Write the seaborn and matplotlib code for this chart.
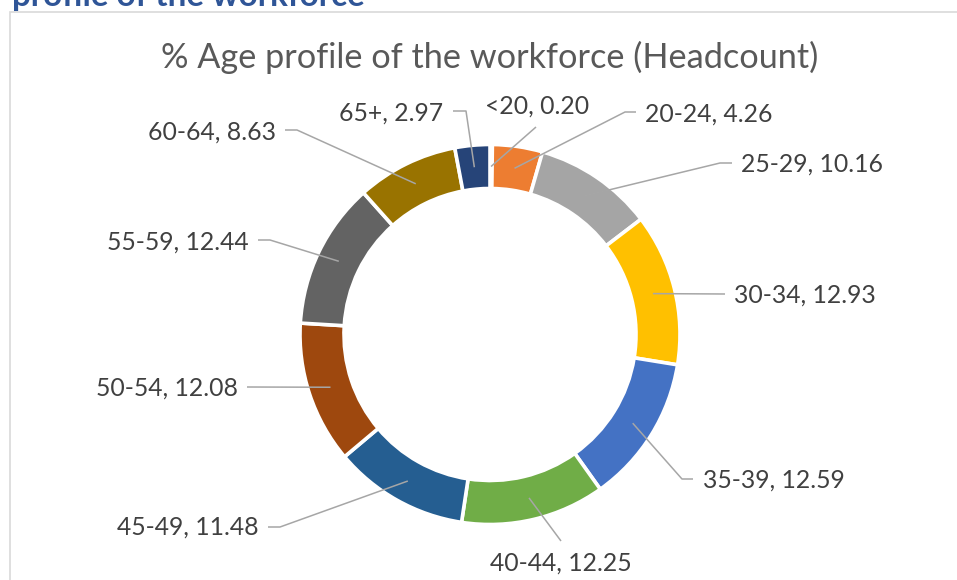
import numpy as np
import matplotlib
matplotlib.use("Agg")
import matplotlib.pyplot as plt
import seaborn as sns
from matplotlib.patches import Rectangle

# age bands, clockwise from 12 o'clock
age_bands = ["<20", "20-24", "25-29", "30-34", "35-39", "40-44",
             "45-49", "50-54", "55-59", "60-64", "65+"]
headcount_pct = [0.20, 4.26, 10.16, 12.93, 12.59, 12.25,
                 11.48, 12.08, 12.44, 8.63, 2.97]
band_colors = ["#5B9BD5", "#ED7D31", "#A5A5A5", "#FFC000", "#4472C4", "#70AD47",
               "#255E91", "#9E480E", "#636363", "#997300", "#264478"]

title = "% Age profile of the workforce (Headcount)"
heading = "profile of the workforce"

# label layout in pixel coords: (text x, text y, ha, elbow points...)
label_layout = {
    "<20":   (537, 106, "center", [(536, 127)]),
    "20-24": (645, 114, "left",   [(625, 112), (636, 112)]),
    "25-29": (741, 164, "left",   [(720, 163), (732, 163)]),
    "30-34": (734, 295, "left",   [(725, 294)]),
    "35-39": (703, 480, "left",   [(682, 479), (693, 479)]),
    "40-44": (561, 563, "center", [(561, 541)]),
    "45-49": (259, 527, "right",  [(280, 527), (268, 527)]),
    "50-54": (238, 388, "right",  [(247, 387)]),
    "55-59": (249, 242, "right",  [(270, 240), (258, 240)]),
    "60-64": (276, 132, "right",  [(297, 130), (285, 130)]),
    "65+":   (443, 113, "right",  [(466, 111), (453, 111)]),
}

sns.set_theme(style="white")
plt.rcParams["font.family"] = ["Lato", "DejaVu Sans"]

W, H = 957, 580
fig = plt.figure(figsize=(W / 100, H / 100), dpi=100)
ax = fig.add_axes([0, 0, 1, 1])

def py(y):
    return H - y

cx, cy = 490, 334.5
r_out, r_in = 190, 146

palette = sns.color_palette(band_colors)
ax.pie(headcount_pct, colors=palette, startangle=90, counterclock=False,
       center=(cx, py(cy)), radius=r_out,
       wedgeprops=dict(width=r_out - r_in, edgecolor="white", linewidth=2.6))

# pie() resets the limits, so fix the pixel frame afterwards
ax.set_xlim(0, W)
ax.set_ylim(0, H)
ax.set_aspect("equal")
ax.axis("off")

# leader lines and labels
total = sum(headcount_pct)
cum = np.cumsum([0] + headcount_pct)
r_mid = (r_out + r_in) / 2
for i, band in enumerate(age_bands):
    mid = (cum[i] + headcount_pct[i] / 2) / total * 2 * np.pi
    ax_x = cx + r_mid * np.sin(mid)
    ax_y = cy - r_mid * np.cos(mid)
    tx, ty, ha, pts = label_layout[band]
    xs = [ax_x] + [p[0] for p in pts]
    ys = [py(ax_y)] + [py(p[1]) for p in pts]
    ax.plot(xs, ys, color="#A6A6A6", lw=1.1, solid_capstyle="butt", zorder=3)
    ax.text(tx, py(ty), f"{band}, {headcount_pct[i]:.2f}", ha=ha, va="center",
            fontsize=17.8, color="#404040", zorder=4)

ax.text(490, py(57), title, ha="center", va="center", fontsize=24.7, color="#595959")

# chart frame and clipped heading above it
ax.add_patch(Rectangle((10, -20), W + 20, py(12) + 20, fill=False,
                       edgecolor="#D9D9D9", lw=1.2, zorder=0))
ax.text(12, py(6), heading, ha="left", va="baseline", fontsize=23.9,
        fontweight="bold", color="#2F5597")

fig.savefig("out.png", dpi=100)
